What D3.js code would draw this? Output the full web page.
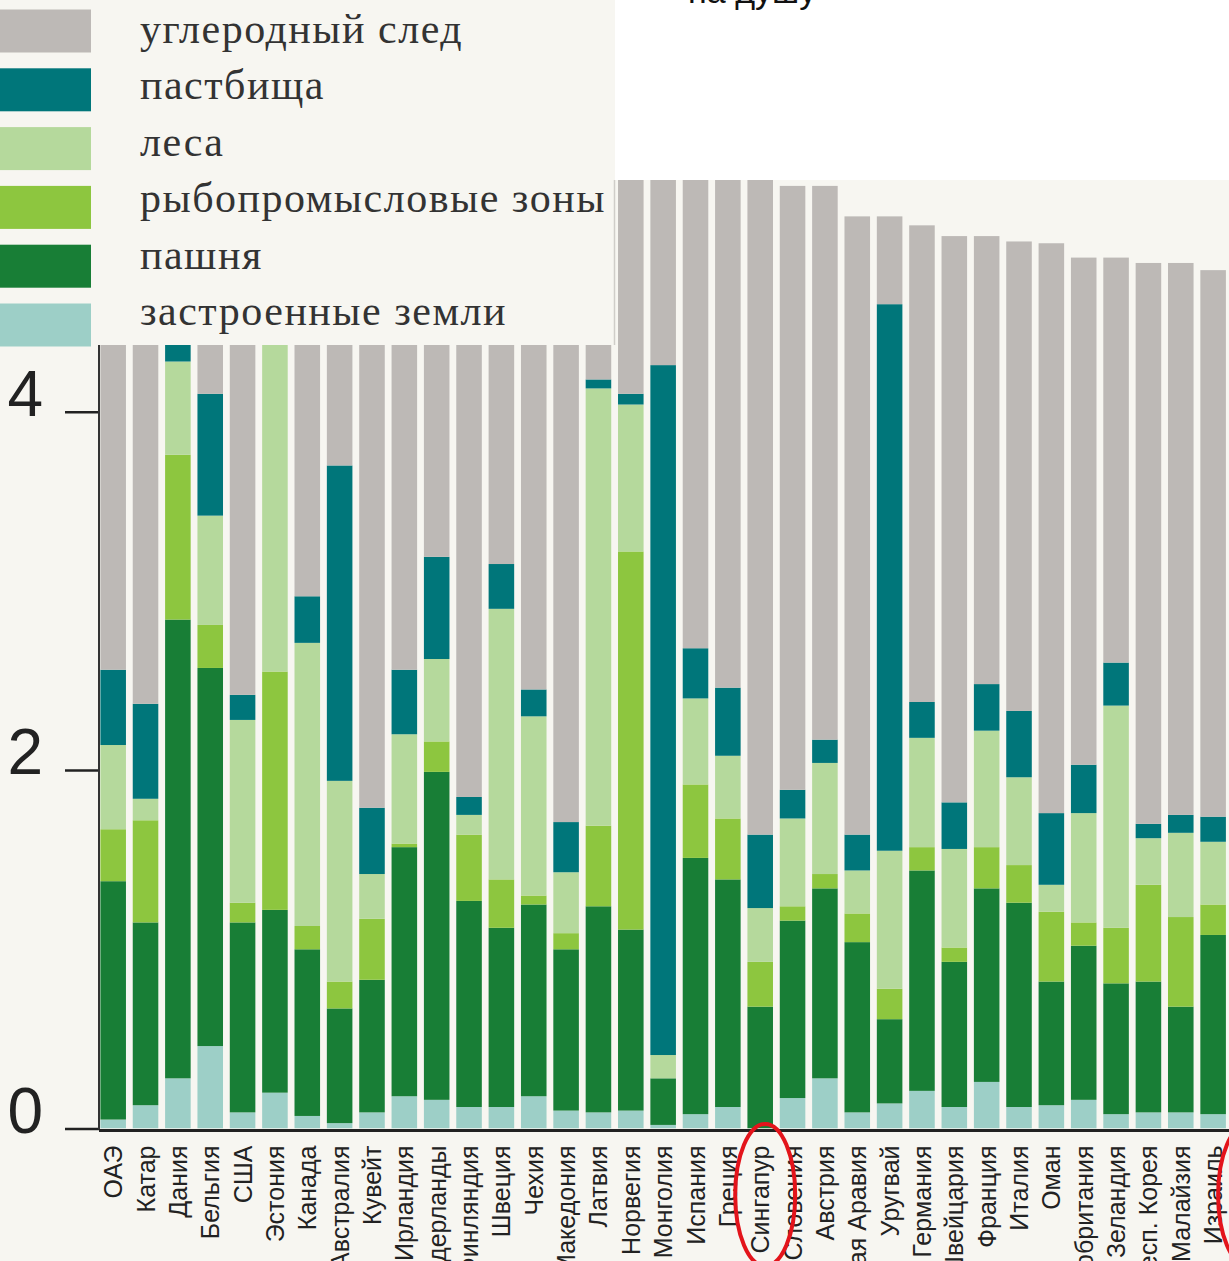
<!DOCTYPE html>
<html><head><meta charset="utf-8">
<script src="https://cdn.jsdelivr.net/npm/d3@7"></script>
<style>
html,body{margin:0;padding:0;background:#fff;overflow:hidden;}
svg{display:block;}
</style></head>
<body>
<script>
// ---------- DATA ----------
const countries = ["ОАЭ","Катар","Дания","Бельгия","США","Эстония","Канада","Австралия","Кувейт","Ирландия","Нидерланды","Финляндия","Швеция","Чехия","Македония","Латвия","Норвегия","Монголия","Испания","Греция","Сингапур","Словения","Австрия","Саудовская Аравия","Уругвай","Германия","Швейцария","Франция","Италия","Оман","Великобритания","Новая Зеландия","Респ. Корея","Малайзия","Израиль"];
const builtLand = [0.05,0.13,0.28,0.46,0.09,0.20,0.07,0.03,0.09,0.18,0.16,0.12,0.12,0.18,0.10,0.09,0.10,0.02,0.08,0.12,0.00,0.17,0.28,0.09,0.14,0.21,0.12,0.26,0.12,0.13,0.16,0.08,0.09,0.09,0.08];
const cropland  = [1.33,1.02,2.56,2.11,1.06,1.02,0.93,0.64,0.74,1.39,1.83,1.15,1.00,1.07,0.90,1.15,1.01,0.26,1.43,1.27,0.68,0.99,1.06,0.95,0.47,1.23,0.81,1.08,1.14,0.69,0.86,0.73,0.73,0.59,1.00];
const fishing   = [0.29,0.57,0.92,0.24,0.11,1.33,0.13,0.15,0.34,0.02,0.17,0.37,0.27,0.05,0.09,0.45,2.11,0.00,0.41,0.34,0.25,0.08,0.08,0.16,0.17,0.13,0.08,0.23,0.21,0.39,0.13,0.31,0.54,0.50,0.17];
const forest    = [0.47,0.12,0.52,0.61,1.02,2.10,1.58,1.12,0.25,0.61,0.46,0.11,1.51,1.00,0.34,2.44,0.82,0.13,0.48,0.35,0.30,0.49,0.62,0.24,0.77,0.61,0.55,0.65,0.49,0.15,0.61,1.24,0.26,0.47,0.35];
const grazing   = [0.42,0.53,0.15,0.68,0.14,0.20,0.26,1.76,0.37,0.36,0.57,0.10,0.25,0.15,0.28,0.05,0.06,3.85,0.28,0.38,0.41,0.16,0.13,0.20,3.05,0.20,0.26,0.26,0.37,0.40,0.27,0.24,0.08,0.10,0.14];
const carbon    = [8.12,8.14,3.83,3.90,5.58,3.03,4.04,3.14,4.53,3.73,3.00,4.31,2.73,3.28,3.95,1.46,1.46,1.27,2.74,2.93,3.70,3.37,3.09,3.45,0.49,2.66,3.16,2.50,2.62,3.18,2.83,2.26,3.13,3.08,3.05];
const seriesKeys   = ["built","crop","fish","forest","grazing","carbon"];
const seriesNames  = ["застроенные земли","пашня","рыбопромысловые зоны","леса","пастбища","углеродный след"];
const seriesColors = ["#9dcfc7","#187e36","#8dc63f","#b5d99c","#00767a","#bdb9b6"];
const yTicks = [0,2,4];
const highlighted = ["Сингапур","Израиль"];

// ---------- LAYOUT ----------
const W = 1229, H = 1261;
const bg = "#f7f6f1";
const legendW = 615, legendH = 345, plotTop = 180;

const rows = countries.map((c,i)=>({country:c, built:builtLand[i], crop:cropland[i], fish:fishing[i], forest:forest[i], grazing:grazing[i], carbon:carbon[i]}));
const stacked = d3.stack().keys(seriesKeys)(rows);
const color = d3.scaleOrdinal().domain(seriesKeys).range(seriesColors);

const x = d3.scaleBand().domain(countries).range([97, 1229.3]).paddingInner(0.21).paddingOuter(0.105);
const y = d3.scaleLinear().domain([0,4]).range([1128.5, 411.7]);

const svg = d3.select("body").append("svg").attr("width",W).attr("height",H);
svg.append("rect").attr("width",W).attr("height",H).attr("fill",bg);
svg.append("rect").attr("x",legendW).attr("y",0).attr("width",W-legendW).attr("height",plotTop).attr("fill","#ffffff");

// top heading fragment (cut off)
svg.append("text").attr("x",688).attr("y",3).attr("font-family","Liberation Sans, Arial, sans-serif")
  .attr("font-size",34).attr("fill","#111").text("на душу");

const defs = svg.append("defs");
defs.append("clipPath").attr("id","plotClip").append("rect")
  .attr("x",90).attr("y",plotTop).attr("width",W-90).attr("height",y(0)-plotTop);

// bars
const barsG = svg.append("g").attr("clip-path","url(#plotClip)");
barsG.selectAll("g.series").data(stacked).join("g").attr("class","series")
  .attr("fill",d=>color(d.key))
  .selectAll("rect").data(d=>d).join("rect")
  .attr("x",d=>x(d.data.country))
  .attr("width",x.bandwidth())
  .attr("y",d=>y(d[1]))
  .attr("height",d=>Math.max(0,y(d[0])-y(d[1])));

// y axis
const yAxis = d3.axisLeft(y).tickValues(yTicks).tickSize(34).tickPadding(22).tickFormat(d3.format("d"));
const yG = svg.append("g").attr("transform","translate(99,0)").call(yAxis);
yG.select(".domain").remove();
yG.selectAll(".tick line").attr("stroke","#222").attr("stroke-width",2.5);
yG.selectAll(".tick text").attr("font-family","Liberation Sans, Arial, sans-serif")
  .attr("font-size",64).attr("fill","#222").attr("dy","0.06em");
yG.append("line").attr("x1",0).attr("x2",0).attr("y1",y(0)+1).attr("y2",plotTop).attr("stroke","#333").attr("stroke-width",2);

// x axis
const xAxis = d3.axisBottom(x).tickSize(0).tickSizeOuter(0);
const xG = svg.append("g").attr("transform",`translate(0,${y(0)+2})`).call(xAxis);
xG.select(".domain").attr("stroke","#222").attr("stroke-width",3).attr("d",`M99,0H${W}`);
xG.selectAll(".tick text").attr("font-family","Liberation Sans, Arial, sans-serif")
  .attr("font-size",25).attr("fill","#222")
  .attr("transform","rotate(-90)").attr("x",-15).attr("y",0).attr("dy","0.36em").attr("text-anchor","end");

// legend panel
svg.append("rect").attr("x",0).attr("y",0).attr("width",legendW).attr("height",legendH).attr("fill",bg);
svg.append("line").attr("x1",legendW-0.5).attr("x2",legendW-0.5).attr("y1",plotTop).attr("y2",legendH)
  .attr("stroke","#cfcdc8").attr("stroke-width",1.5);
const legendOrder = seriesKeys.slice().reverse();
const lg = svg.append("g");
legendOrder.forEach((k,i)=>{
  const idx = seriesKeys.indexOf(k);
  const cy = 31 + i*58.8;
  lg.append("rect").attr("x",0).attr("y",cy-21.5).attr("width",91).attr("height",43).attr("fill",color(k));
  lg.append("text").attr("x",140).attr("y",43 + i*56.4)
    .attr("font-family","Liberation Serif, Times New Roman, serif").attr("font-size",42)
    .attr("letter-spacing","1.5px").attr("fill","#333").text(seriesNames[idx]);
});

// red highlight ellipses
const ellOffsets = [5, 35];
highlighted.forEach((c,i)=>{
  svg.append("ellipse").attr("cx",x(c)+x.bandwidth()/2+ellOffsets[i]).attr("cy",1195)
    .attr("rx",30).attr("ry",71).attr("fill","none").attr("stroke","#e3141b").attr("stroke-width",4);
});
</script>
</body></html>
